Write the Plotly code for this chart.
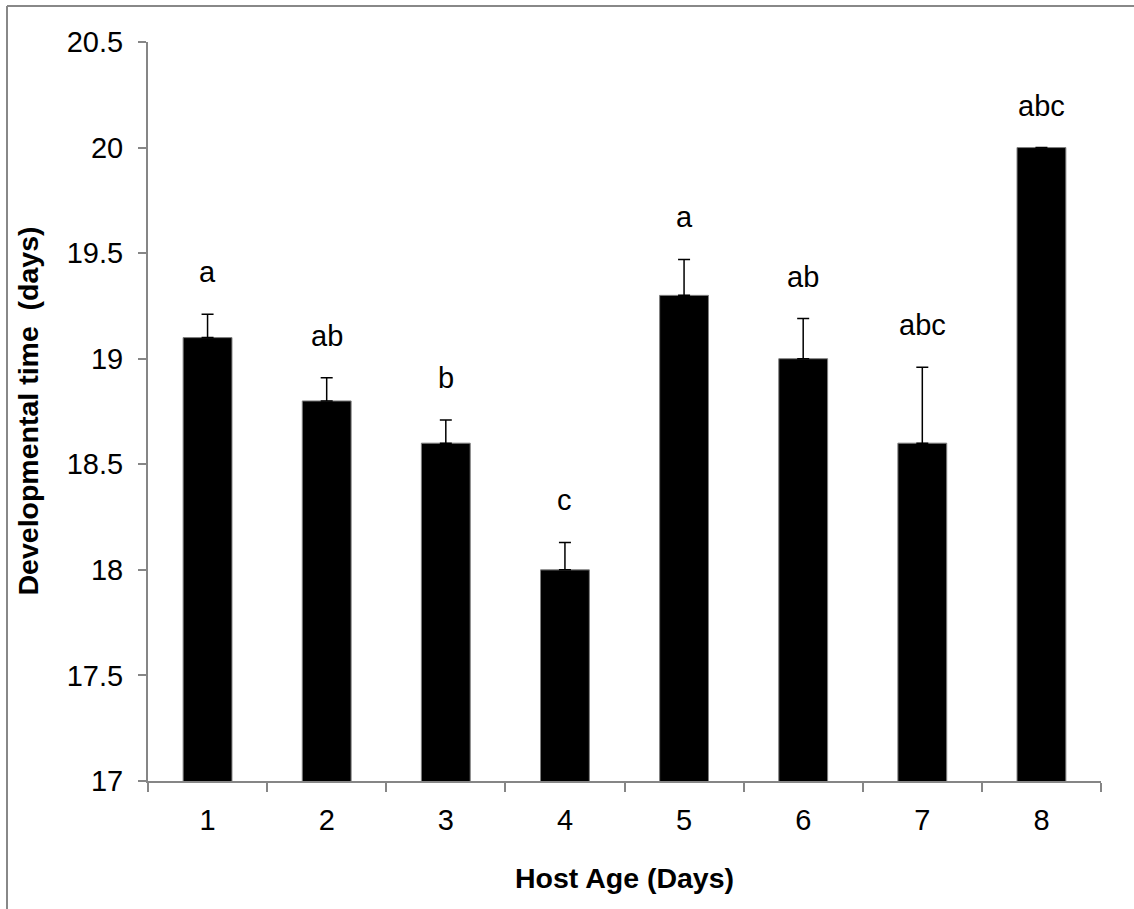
import plotly.graph_objects as go

categories = ["1", "2", "3", "4", "5", "6", "7", "8"]
means = [19.1, 18.8, 18.6, 18.0, 19.3, 19.0, 18.6, 20.0]
errors = [0.11, 0.11, 0.11, 0.13, 0.17, 0.19, 0.36, None]
letters = ["a", "ab", "b", "c", "a", "ab", "abc", "abc"]
y_ticks = [17, 17.5, 18, 18.5, 19, 19.5, 20, 20.5]

W, H = 1134, 909
L, R, T, B = 148, 33, 42, 128
pw, ph = W - L - R, H - T - B

FONT = "Liberation Sans, Arial, sans-serif"
AX = "#868686"
FS = 29

fig = go.Figure()
fig.add_trace(go.Bar(
    x=categories, y=means,
    width=0.41,
    marker=dict(color="black", line=dict(color="#7f7f7f", width=1)),
    error_y=dict(type="data", symmetric=False, array=errors,
                 arrayminus=[None if e is None else 0 for e in errors],
                 color="black", thickness=1.5, width=6),
    showlegend=False,
))

annotations = []
for i, (m, e, t) in enumerate(zip(means, errors, letters)):
    top = m + (e or 0)
    annotations.append(dict(x=i, y=top, text=t, showarrow=False,
                            xref="x", yref="y", yanchor="middle",
                            yshift=42, font=dict(size=FS, color="black", family=FONT)))

annotations.append(dict(x=(27 - L) / pw, y=0.5, xref="paper", yref="paper",
                        text="<b>Developmental time\u00a0 (days)</b>", textangle=-90,
                        showarrow=False, xanchor="center", yanchor="middle",
                        font=dict(size=FS - 0.5, color="black", family=FONT)))
annotations.append(dict(x=0.5, y=(781 - 878) / ph, xref="paper", yref="paper",
                        text="<b>Host Age (Days)</b>",
                        showarrow=False, xanchor="center", yanchor="middle",
                        font=dict(size=FS - 0.5, color="black", family=FONT)))

ytop = (H - B - 6) / ph
shapes = [
    dict(type="line", xref="paper", yref="paper",
         x0=(7 - L) / pw, x1=(W + 10 - L) / pw, y0=ytop, y1=ytop,
         line=dict(color="#888888", width=2)),
    dict(type="line", xref="paper", yref="paper",
         x0=(7 - L) / pw, x1=(7 - L) / pw, y0=ytop, y1=-(B + 20) / ph,
         line=dict(color="#888888", width=2)),
]

fig.update_layout(
    width=W, height=H,
    margin=dict(l=L, r=R, t=T, b=B, autoexpand=False),
    paper_bgcolor="white", plot_bgcolor="white",
    font=dict(family=FONT, size=FS, color="black"),
    annotations=annotations,
    shapes=shapes,
)
fig.update_xaxes(
    type="category", range=[-0.5, 7.5], showline=True, linecolor=AX, linewidth=2,
    ticks="outside", tickson="boundaries", ticklen=9, tickcolor=AX, tickwidth=2,
    showgrid=False, zeroline=False, ticklabelstandoff=12,
    tickfont=dict(size=FS, color="black", family=FONT),
)
fig.update_yaxes(
    range=[17, 20.5], tickvals=y_ticks, ticktext=[f"{v:g}" for v in y_ticks],
    showline=True, linecolor=AX, linewidth=2,
    ticks="outside", ticklen=8, tickcolor=AX, tickwidth=2,
    showgrid=False, zeroline=False, ticklabelstandoff=9,
    tickfont=dict(size=FS, color="black", family=FONT),
)

fig.write_html("out.html")
